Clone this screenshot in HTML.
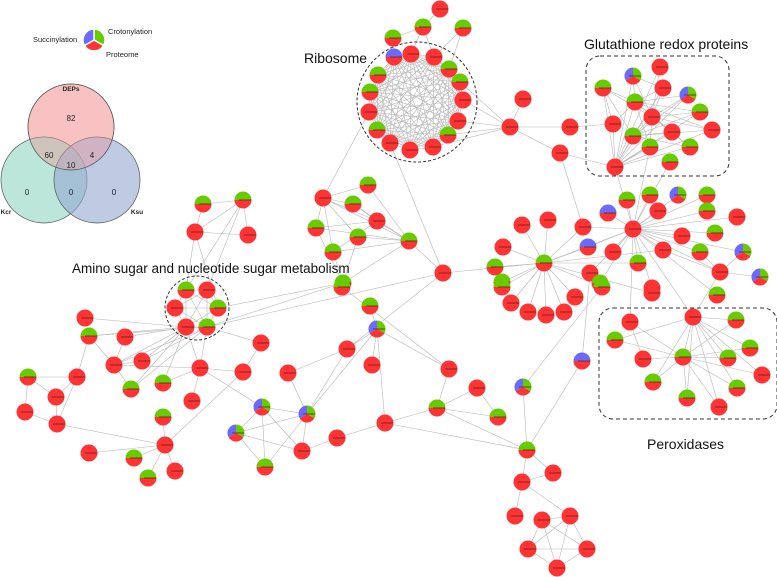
<!DOCTYPE html>
<html><head><meta charset="utf-8"><style>
html,body{margin:0;padding:0;background:#fff;width:777px;height:577px;overflow:hidden}
svg{display:block}
text{font-family:"Liberation Sans",sans-serif}
</style></head><body>
<svg id="s" width="777" height="577" viewBox="0 0 777 577" xmlns="http://www.w3.org/2000/svg">
<g id="edges" stroke="#b8b8b8" stroke-width="0.6" fill="none"></g>
<!-- frames -->
<circle cx="417" cy="102" r="60" fill="none" stroke="#333" stroke-width="1" stroke-dasharray="3,2"/>
<circle cx="197" cy="308" r="32" fill="none" stroke="#333" stroke-width="1" stroke-dasharray="3,2"/>
<rect x="586" y="56" width="143" height="120" rx="14" fill="none" stroke="#333" stroke-width="1" stroke-dasharray="4,3"/>
<rect x="599" y="308" width="178" height="111" rx="14" fill="none" stroke="#333" stroke-width="1" stroke-dasharray="4,3"/>
<g id="nodes"></g>
<!-- titles -->
<text x="304" y="63" font-size="14" fill="#111">Ribosome</text>
<text x="584" y="49" font-size="14" fill="#111">Glutathione redox proteins</text>
<text x="72" y="273" font-size="13.5" fill="#111">Amino sugar and nucleotide sugar metabolism</text>
<text x="647" y="449" font-size="14" fill="#111">Peroxidases</text>
<!-- venn -->
<circle cx="71" cy="127" r="43" fill="#f7a8a8" fill-opacity="0.55" stroke="#555" stroke-width="0.7"/>
<circle cx="44" cy="180" r="43" fill="#8fd6c2" fill-opacity="0.6" stroke="#555" stroke-width="0.7"/>
<circle cx="97" cy="180" r="43" fill="#95a6d0" fill-opacity="0.6" stroke="#555" stroke-width="0.7"/>
<circle cx="71" cy="127" r="43" fill="#f7a8a8" fill-opacity="0.35" stroke="#555" stroke-width="0.7"/>
<g font-size="8" fill="#222" text-anchor="middle">
<text x="71" y="91" font-weight="bold" font-size="6.5">DEPs</text>
<text x="71" y="121">82</text><text x="49" y="158">60</text><text x="92" y="158">4</text><text x="71" y="168">10</text>
<text x="27" y="195">0</text><text x="71" y="195">0</text><text x="114" y="195">0</text>
<text x="6" y="214" font-weight="bold" font-size="6.5">Kcr</text><text x="137" y="214" font-weight="bold" font-size="6.5">Ksu</text>
</g>
<!-- legend -->
<g transform="translate(94,40)">
<path d="M0,0 L0,-11 A11,11 0 0 1 9.5,5.5 Z" fill="#66cc00" stroke="#fff" stroke-width="1.5"/>
<path d="M0,0 L9.5,5.5 A11,11 0 0 1 -9.5,5.5 Z" fill="#ff3333" stroke="#fff" stroke-width="1.5"/>
<path d="M0,0 L-9.5,5.5 A11,11 0 0 1 0,-11 Z" fill="#6a6aff" stroke="#fff" stroke-width="1.5"/>
</g>
<text x="33" y="42" font-size="7.5" fill="#222">Succinylation</text>
<text x="108" y="34" font-size="7.5" fill="#222">Crotonylation</text>
<text x="106" y="57" font-size="7.5" fill="#222">Proteome</text>
</svg>
<script>
var N={
R0:[394,57,'b'],R1:[411,54,'r'],R2:[434,57,'r'],R3:[449,69,'g'],R4:[460,82,'g'],R5:[463,100,'r'],R6:[458,121,'r'],R7:[448,135,'g'],R8:[433,147,'r'],R9:[410,150,'r'],R10:[390,143,'r'],R11:[377,130,'g'],R12:[369,112,'r'],R13:[370,92,'g'],R14:[378,75,'g'],
O0:[440,9,'r'],O1:[423,27,'g'],O2:[463,28,'g'],O3:[393,38,'g'],
H:[510,127,'r'],H1:[523,99,'r'],H2:[570,127,'r'],H3:[560,153,'r'],
G0:[660,67,'r'],G1:[633,76,'t'],G2:[603,88,'g'],G3:[663,88,'r'],G4:[688,95,'t'],G5:[635,102,'g'],G6:[700,112,'g'],G7:[652,117,'r'],G8:[613,124,'r'],G9:[712,130,'r'],G10:[672,132,'r'],G11:[633,136,'g'],G12:[650,147,'g'],G13:[690,147,'g'],G14:[615,167,'r'],G15:[670,162,'g'],
C:[633,229,'r'],C1:[627,200,'g'],C2:[650,195,'g'],C3:[678,195,'t'],C4:[707,195,'g'],C5:[608,213,'b'],C6:[658,211,'r'],C7:[707,211,'g'],C8:[737,217,'r'],C9:[682,236,'r'],C10:[715,233,'g'],C11:[663,250,'r'],C12:[700,252,'g'],C13:[743,252,'t'],C14:[720,272,'r'],C15:[760,277,'t'],C16:[583,227,'r'],C17:[588,247,'b'],C18:[613,252,'r'],C19:[638,263,'g'],C20:[590,273,'r'],C21:[600,283,'g'],C22:[652,288,'r'],C23:[717,295,'g'],
M:[544,263,'g'],M1:[522,225,'r'],M2:[548,220,'r'],M3:[503,247,'r'],M4:[495,267,'g'],M5:[502,282,'g'],M6:[443,273,'r'],
M7:[502,287,'g'],M8:[511,303,'r'],M9:[528,312,'r'],M10:[546,315,'r'],M11:[564,312,'r'],M12:[575,297,'r'],M13:[602,287,'g'],M14:[652,293,'r'],
L0:[368,185,'g'],L1:[323,198,'r'],L2:[353,204,'g'],L3:[377,221,'r'],L4:[316,228,'g'],L5:[358,237,'g'],L6:[409,241,'g'],L7:[333,252,'g'],L8:[343,283,'g'],
K0:[203,204,'g'],K1:[243,200,'g'],K2:[195,232,'r'],K3:[248,235,'r'],
A0:[186,290,'g'],A1:[207,290,'r'],A2:[175,308,'r'],A3:[218,308,'g'],A4:[186,327,'r'],A5:[207,327,'g'],
A6:[85,318,'r'],A7:[89,336,'g'],A8:[125,337,'r'],A9:[114,365,'r'],A10:[142,361,'r'],A11:[28,377,'g'],A12:[77,377,'r'],A13:[56,397,'r'],A14:[25,412,'r'],A15:[57,424,'r'],A16:[131,389,'g'],A17:[163,383,'g'],A18:[200,368,'r'],A19:[192,401,'r'],A20:[163,417,'g'],A21:[165,445,'r'],A22:[89,453,'r'],A23:[134,458,'g'],A24:[175,471,'r'],A25:[148,478,'g'],
B0:[261,343,'r'],B1:[243,372,'r'],B2:[262,407,'t'],B3:[236,433,'t'],B4:[307,414,'t'],B5:[302,451,'r'],B6:[265,467,'g'],B7:[337,438,'r'],B8:[288,373,'r'],B9:[347,349,'r'],B10:[370,306,'g'],B11:[377,329,'t'],B12:[372,365,'r'],B13:[342,287,'g'],
D0:[449,369,'r'],D1:[437,408,'g'],D2:[385,423,'r'],D3:[477,388,'r'],D4:[498,417,'g'],D5:[582,361,'b'],D6:[523,387,'t'],
E0:[527,450,'g'],E1:[553,473,'r'],E2:[522,482,'r'],E3:[515,516,'r'],E4:[542,520,'r'],E5:[570,516,'r'],E6:[528,549,'r'],E7:[587,549,'r'],E8:[557,568,'r'],
P0:[693,317,'r'],P1:[736,320,'g'],P2:[630,322,'r'],P3:[615,340,'g'],P4:[750,348,'g'],P5:[643,359,'r'],P6:[683,357,'g'],P7:[728,358,'g'],P8:[762,375,'r'],P9:[653,382,'g'],P10:[737,388,'g'],P11:[687,398,'g'],P12:[719,407,'r']
};
var E=[];
function hub(h,l){l.forEach(function(x){E.push([h,x]);});}
function clique(l){for(var i=0;i<l.length;i++)for(var j=i+1;j<l.length;j++)E.push([l[i],l[j]]);}
var ring=[];for(var i=0;i<15;i++)ring.push('R'+i);
clique(ring);
hub('O1',['R1','R2','O3','O0']);hub('O2',['R3','R2']);hub('O3',['R0']);
hub('H',['R4','R5','R6','R7','R8','H1','H2','H3']);
hub('H3',['G14','C16']);hub('H2',['G8']);
var g=[];for(var i=0;i<16;i++)g.push('G'+i);
hub('G14',g.slice(0,14));hub('G7',['G0','G1','G2','G3','G4','G6','G9','G10','G11','G12','G13']);
hub('G5',['G3','G4','G6','G9','G10','G12','G13','G8']);hub('G11',['G3','G4','G6','G9','G10','G13']);
hub('G2',['G8','G11','G5']);hub('G1',['G5','G3']);
hub('C',['C1','C2','C3','C4','C5','C6','C7','C8','C9','C10','C11','C12','C13','C14','C16','C17','C18','C19','C20','C21','C22','G14','G15','G12','P0','P2','C23','M']);
hub('C14',['C13','C15','C11','C12','P0']);
hub('M',['M1','M2','M3','M4','M5','M6','M7','M8','M9','M10','M11','M12','M13','M14','C17','C16','C19','C11']);
hub('M6',['L6','R10','A5','B9']);
hub('L6',['L0','L1','L2','L3','L4','L5','L7','L8']);hub('L1',['L0','L2','L4','L3','L5','L7']);hub('L3',['L2','L4','L7']);hub('L8',['L7','L5','L4','A3','A5']);
hub('R12',['L1']);
hub('K0',['K1','K2']);hub('K1',['K2','K3','A1','A0']);hub('K2',['K3','A0','A3']);
clique(['A0','A1','A2','A3','A4','A5']);
hub('A4',['A6','A7','A8','A9','A10','A16','A17','A18']);hub('A5',['A7','A9','A16','A10','A18','B0']);
hub('A9',['A7','A8','A16','A10','A18']);hub('A7',['A12']);
hub('A12',['A11','A15','A13']);hub('A11',['A13','A14']);hub('A15',['A13','A14','A21']);
hub('A18',['A19','A17','B2','B1']);hub('A21',['A20','A22','A23','A24','A25','B1']);hub('B1',['B0']);
hub('B2',['B3','B4','B5','B6']);hub('B4',['B3','B5','B6','B8','B9','B11']);hub('B3',['B6','B5']);hub('B7',['B5','D2']);
hub('B9',['B8','B11']);hub('B11',['B10','B12','D0','D2']);hub('D0',['B13','D1']);
hub('D1',['D2','D3','D4','E0']);hub('D2',['E0']);hub('D3',['D4']);
hub('E0',['D6','D5','E1','E2']);hub('D6',['M13']);hub('D5',['C20']);
hub('E2',['E1','E3','E5']);clique(['E4','E5','E6','E7','E8']);hub('E3',[]);
hub('P6',['P0','P2','P3','P4','P5','P7','P9','P10','P11','P12','P1']);
hub('P0',['P1','P3','P4','P7','P8','P10','P12','P11','P9']);hub('P2',['P5']);hub('P8',['P6']);
var ns='http://www.w3.org/2000/svg',eg=document.getElementById('edges'),ng=document.getElementById('nodes');
E.forEach(function(e){var a=N[e[0]],b=N[e[1]];if(!a||!b)return;var l=document.createElementNS(ns,'line');
l.setAttribute('x1',a[0]);l.setAttribute('y1',a[1]);l.setAttribute('x2',b[0]);l.setAttribute('y2',b[1]);eg.appendChild(l);});
var r=8.5,R='#ff3333',G='#66cc00',B='#6a6aff';
function P(d,f,p){var e=document.createElementNS(ns,'path');e.setAttribute('d',d);e.setAttribute('fill',f);p.appendChild(e);}
for(var k in N){var n=N[k],x=n[0],y=n[1],t=n[2];
 var gg=document.createElementNS(ns,'g');gg.setAttribute('transform','translate('+x+','+y+')');
 if(t=='r'){var c=document.createElementNS(ns,'circle');c.setAttribute('r',r);c.setAttribute('fill',R);gg.appendChild(c);}
 else if(t=='g'||t=='b'){P('M'+(-r)+',0 A'+r+','+r+' 0 0 1 '+r+',0 Z',t=='g'?G:B,gg);P('M'+(-r)+',0 A'+r+','+r+' 0 0 0 '+r+',0 Z',R,gg);}
 else {var s=r*0.866,h=r/2;P('M0,0 L0,'+(-r)+' A'+r+','+r+' 0 0 1 '+s+','+h+' Z',G,gg);P('M0,0 L'+s+','+h+' A'+r+','+r+' 0 0 1 '+(-s)+','+h+' Z',R,gg);P('M0,0 L'+(-s)+','+h+' A'+r+','+r+' 0 0 1 0,'+(-r)+' Z',B,gg);}
 var l=document.createElementNS(ns,'rect');l.setAttribute('x',-4);l.setAttribute('y',-0.8);l.setAttribute('width',12);l.setAttribute('height',1.6);l.setAttribute('fill','#5a2a1a');l.setAttribute('opacity','0.5');gg.appendChild(l);
 ng.appendChild(gg);}
</script>
</body></html>
